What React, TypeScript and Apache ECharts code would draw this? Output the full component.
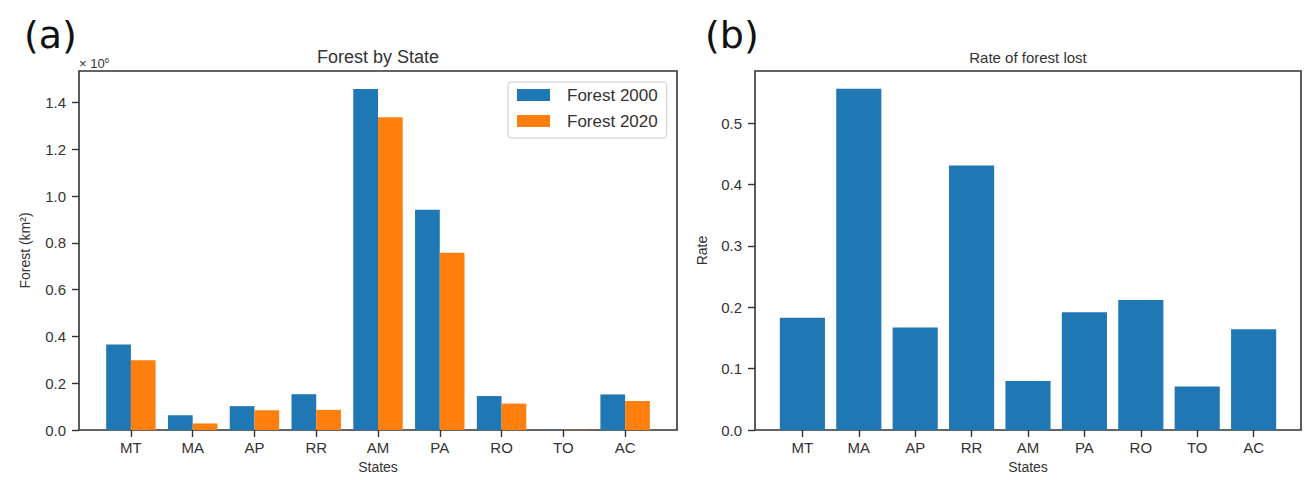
import React, { useEffect, useRef } from "react";
import * as echarts from "echarts";

const states = ["MT", "MA", "AP", "RR", "AM", "PA", "RO", "TO", "AC"];
const forest2000 = [0.366, 0.063, 0.102, 0.153, 1.458, 0.942, 0.145, 0.0012, 0.152];
const forest2020 = [0.298, 0.028, 0.084, 0.086, 1.337, 0.758, 0.113, 0.0011, 0.124];
const rateLost = [0.183, 0.556, 0.167, 0.431, 0.080, 0.192, 0.212, 0.071, 0.164];
const forestTicks = [0, 0.2, 0.4, 0.6, 0.8, 1.0, 1.2, 1.4];
const rateTicks = [0, 0.1, 0.2, 0.3, 0.4, 0.5];

const FONT = "'Liberation Sans', Arial, sans-serif";
const TXT = "#333";
const LINE = "#333";

export default function App() {
  const ref = useRef<HTMLDivElement>(null);
  useEffect(() => {
    if (!ref.current) return;
    const chart = echarts.init(ref.current, null, { renderer: "svg" });

    const top = 71;
    const height = 359;
    const lFrameL = 79, lFrameW = 598;
    const lUnit = lFrameW / 9.68;
    const lDataL = lFrameL + 0.34 * lUnit;
    const lDataW = 9 * lUnit;
    const rFrameL = 755, rFrameW = 546;
    const rUnit = rFrameW / 9.68;
    const rDataL = rFrameL + 0.34 * rUnit;
    const rDataW = 9 * rUnit;

    const lMax = 1.535;
    const rMax = 0.585;

    const frameGrid = (left: number, width: number) => ({
      left, top, width, height,
      show: true, borderColor: LINE, borderWidth: 1.6, backgroundColor: "transparent",
      containLabel: false, outerBoundsMode: "none",
    });
    const dataGrid = (left: number, width: number) => ({
      left, top, width, height, containLabel: false, outerBoundsMode: "none",
    });

    const frameY = (max: number, ticks: number[], name: string, nameGap: number) => ({
      type: "value", min: 0, max,
      axisLine: { show: false },
      splitLine: { show: false },
      axisTick: { show: true, length: 7, inside: false, customValues: ticks, lineStyle: { color: LINE, width: 1.4 } },
      axisLabel: {
        show: true, customValues: ticks, margin: 13, fontSize: 15, color: TXT, fontFamily: FONT,
        formatter: (v: number) => v.toFixed(1),
      },
      name, nameLocation: "middle", nameGap,
      nameTextStyle: { fontSize: 14, color: TXT, fontFamily: FONT },
    });
    const hiddenY = (max: number) => ({ type: "value", min: 0, max, show: false });
    const hiddenX = { type: "value", min: 0, max: 1, show: false };
    const catX = {
      type: "category", data: states,
      axisLine: { show: false },
      axisTick: { show: true, alignWithLabel: true, length: 7, inside: false, lineStyle: { color: LINE, width: 1.4 } },
      axisLabel: { margin: 10, fontSize: 15, color: TXT, fontFamily: FONT },
      splitLine: { show: false },
      name: "States", nameLocation: "middle", nameGap: 28,
      nameTextStyle: { fontSize: 14, color: TXT, fontFamily: FONT },
    };

    const option: any = {
      animation: false,
      backgroundColor: "#fff",
      grid: [
        frameGrid(lFrameL, lFrameW),
        dataGrid(lDataL, lDataW),
        frameGrid(rFrameL, rFrameW),
        dataGrid(rDataL, rDataW),
      ],
      xAxis: [
        { ...hiddenX, gridIndex: 0 },
        { ...catX, gridIndex: 1 },
        { ...hiddenX, gridIndex: 2 },
        { ...catX, gridIndex: 3 },
      ],
      yAxis: [
        { ...frameY(lMax, forestTicks, "Forest (km²)", 47), gridIndex: 0 },
        { ...hiddenY(lMax), gridIndex: 1 },
        { ...frameY(rMax, rateTicks, "Rate", 46), gridIndex: 2 },
        { ...hiddenY(rMax), gridIndex: 3 },
      ],
      legend: {
        data: ["Forest 2000", "Forest 2020"],
        orient: "vertical",
        left: 508, top: 82,
        padding: [4, 9, 8, 9],
        itemWidth: 33, itemHeight: 12, itemGap: 8,
        icon: "rect",
        borderColor: "#ccc", borderWidth: 1, borderRadius: 3,
        backgroundColor: "rgba(255,255,255,0.8)",
        textStyle: { fontSize: 17, color: TXT, fontFamily: FONT, padding: [0, 0, 0, 12], lineHeight: 18 },
      },
      series: [
        {
          name: "Forest 2000", type: "bar", xAxisIndex: 1, yAxisIndex: 1,
          data: forest2000, barWidth: lUnit * 0.4, barGap: "0%",
          itemStyle: { color: "#1f77b4" },
        },
        {
          name: "Forest 2020", type: "bar", xAxisIndex: 1, yAxisIndex: 1,
          data: forest2020, barWidth: lUnit * 0.4, barGap: "0%",
          itemStyle: { color: "#ff7f0e" },
        },
        {
          name: "Rate", type: "bar", xAxisIndex: 3, yAxisIndex: 3,
          data: rateLost, barWidth: rUnit * 0.8,
          itemStyle: { color: "#1f77b4" },
        },
      ],
      graphic: [
        { type: "text", x: lFrameL + lFrameW / 2, y: 57, style: { text: "Forest by State", font: `18px ${FONT}`, fill: TXT, textAlign: "center", textVerticalAlign: "middle" } },
        { type: "text", x: rFrameL + rFrameW / 2, y: 57, style: { text: "Rate of forest lost", font: `15px ${FONT}`, fill: TXT, textAlign: "center", textVerticalAlign: "middle" } },
        { type: "text", x: 24, y: 35, style: { text: "(a)", font: `38px 'DejaVu Sans', sans-serif`, fill: "#111", textAlign: "left", textVerticalAlign: "middle" } },
        { type: "text", x: 705, y: 35, style: { text: "(b)", font: `38px 'DejaVu Sans', sans-serif`, fill: "#111", textAlign: "left", textVerticalAlign: "middle" } },
        {
          type: "text", x: 79, y: 63,
          style: {
            text: "{a|× 10}{s|6}",
            rich: {
              a: { fontSize: 13, fontFamily: FONT, fill: TXT },
              s: { fontSize: 8, fontFamily: FONT, fill: TXT, verticalAlign: "top", padding: [0, 0, 6, 0] },
            },
            textAlign: "left", textVerticalAlign: "middle",
          },
        },
      ],
    };
    chart.setOption(option);
    return () => chart.dispose();
  }, []);
  return (
    <div
      ref={ref}
      style={{ position: "fixed", left: 0, top: 0, width: 1313, height: 480, background: "#fff" }}
    />
  );
}
